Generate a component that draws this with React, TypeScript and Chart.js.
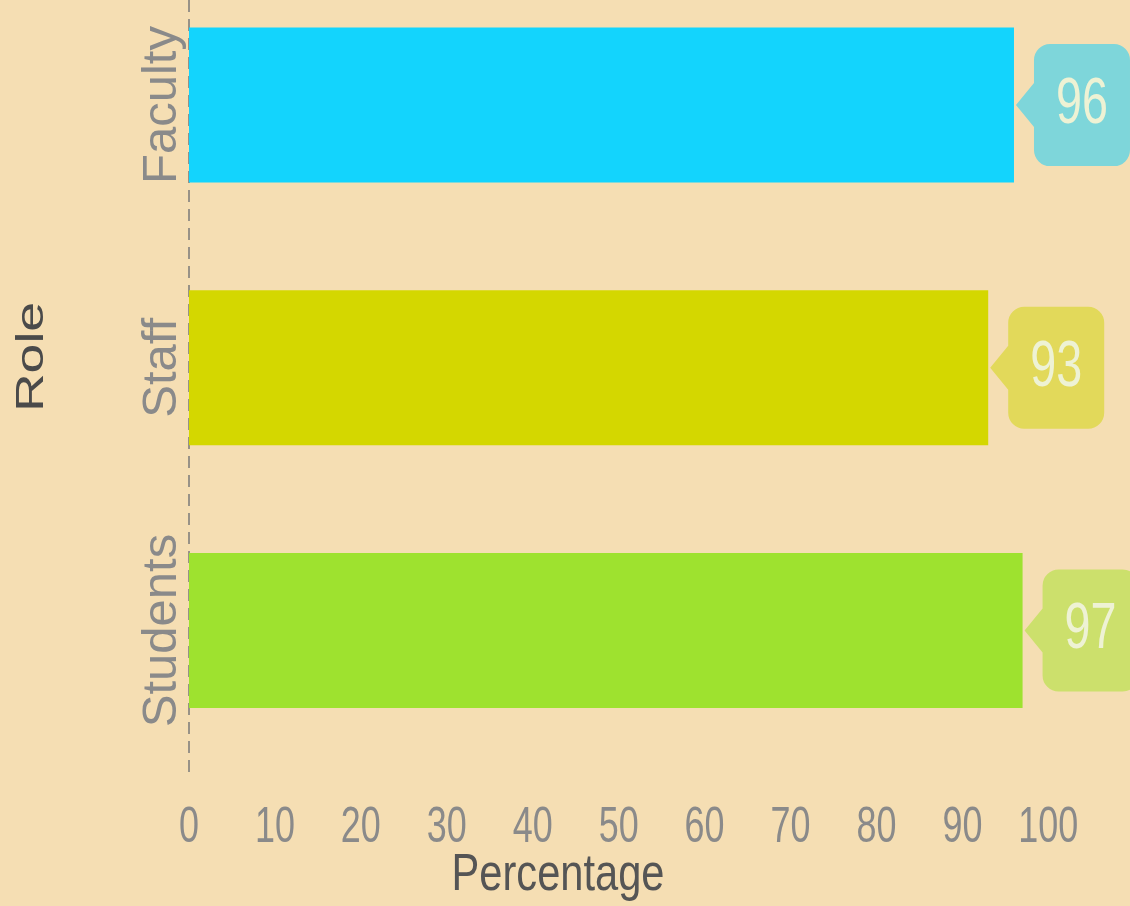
import React, { useEffect, useRef } from 'react';
import { Chart, registerables } from 'chart.js';

Chart.register(...registerables);

const categories = ['Faculty', 'Staff', 'Students'];
const values = [96, 93, 97];
const xTickValues = [0, 10, 20, 30, 40, 50, 60, 70, 80, 90, 100];
const barColors = ['#13D4FD', '#D4D700', '#9EE22F'];
const calloutColors = ['#7ED6DA', '#E2D95A', '#CCE06C'];
const xTitle = 'Percentage';
const yTitle = 'Role';

const SANS = '"Liberation Sans", Arial, sans-serif';

const overlayPlugin = {
  id: 'overlay',
  beforeDatasetsDraw(chart: any) {
    const { ctx, chartArea } = chart;
    ctx.save();
    ctx.strokeStyle = '#7a7a7a';
    ctx.lineWidth = 1.5;
    ctx.setLineDash([12, 7]);
    ctx.beginPath();
    ctx.moveTo(chartArea.left, chartArea.top);
    ctx.lineTo(chartArea.left, chartArea.bottom);
    ctx.stroke();
    ctx.restore();
  },
  afterDatasetsDraw(chart: any) {
    const ctx = chart.ctx;
    const meta = chart.getDatasetMeta(0);
    meta.data.forEach((bar: any, i: number) => {
      const { x, y } = bar.getProps(['x', 'y'], true);
      const left = x + 20;
      const w = 96;
      const h = 122;
      const top = y - h / 2;
      const r = 16;
      const tip = x + 2;
      const half = 22;
      ctx.save();
      ctx.beginPath();
      ctx.moveTo(left + r, top);
      ctx.lineTo(left + w - r, top);
      ctx.arcTo(left + w, top, left + w, top + r, r);
      ctx.lineTo(left + w, top + h - r);
      ctx.arcTo(left + w, top + h, left + w - r, top + h, r);
      ctx.lineTo(left + r, top + h);
      ctx.arcTo(left, top + h, left, top + h - r, r);
      ctx.lineTo(left, y + half);
      ctx.lineTo(tip, y);
      ctx.lineTo(left, y - half);
      ctx.lineTo(left, top + r);
      ctx.arcTo(left, top, left + r, top, r);
      ctx.closePath();
      ctx.fillStyle = calloutColors[i];
      ctx.fill();
      ctx.fillStyle = '#EEF2D4';
      ctx.font = `65px ${SANS}`;
      ctx.textAlign = 'center';
      ctx.textBaseline = 'middle';
      ctx.fillText(String(values[i]), left + w / 2, y, 52);
      ctx.restore();
    });
  },
  afterDraw(chart: any) {
    const ctx = chart.ctx;
    ctx.save();
    ctx.fillStyle = '#4a4a4a';
    ctx.font = `38px ${SANS}`;
    ctx.textAlign = 'center';
    ctx.textBaseline = 'middle';
    ctx.translate(33, 357);
    ctx.rotate(-Math.PI / 2);
    ctx.scale(1.41, 1);
    ctx.fillText(yTitle, 0, 0);
    ctx.restore();

    ctx.save();
    ctx.fillStyle = '#555555';
    ctx.font = `52px ${SANS}`;
    ctx.textAlign = 'center';
    ctx.textBaseline = 'middle';
    ctx.fillText(xTitle, 558, 876, 213);
    ctx.restore();
  },
};

export default function App() {
  const ref = useRef<HTMLCanvasElement | null>(null);

  useEffect(() => {
    if (!ref.current) return;
    const chart = new Chart(ref.current, {
      type: 'bar',
      data: {
        datasets: [
          {
            data: values.map((v, i) => ({ x: v, y: i })),
            backgroundColor: barColors,
            categoryPercentage: 1,
            barPercentage: 0.59,
          },
        ],
      },
      options: {
        indexAxis: 'y',
        responsive: false,
        animation: false,
        layout: { padding: 0 },
        plugins: {
          legend: { display: false },
          tooltip: { enabled: false },
        },
        scales: {
          x: {
            type: 'linear',
            min: 0,
            max: 109.5,
            offset: false,
            grid: { display: false },
            border: { display: false },
            afterBuildTicks: (s: any) => {
              s.ticks = xTickValues.map((v) => ({ value: v }));
            },
            afterFit: (s: any) => {
              s.height = 131;
            },
            afterUpdate: (s: any) => {
              if (s.__condensed) return;
              s.__condensed = true;
              const orig = s.getLabelItems.bind(s);
              s.getLabelItems = (ca: any) =>
                orig(ca).map((it: any) => ({
                  ...it,
                  options: { ...it.options, maxWidth: String(it.label).length * 20 },
                }));
            },
            ticks: {
              autoSkip: false,
              maxRotation: 0,
              padding: 15,
              color: '#8a8a8a',
              font: { family: SANS, size: 50 },
            },
          },
          y: {
            type: 'linear',
            reverse: true,
            min: -0.4,
            max: 2.55,
            offset: false,
            grid: { display: false, offset: false },
            border: { display: false },
            afterBuildTicks: (s: any) => {
              s.ticks = categories.map((_, i) => ({ value: i }));
            },
            afterFit: (s: any) => {
              s.width = 189;
            },
            ticks: {
              autoSkip: false,
              minRotation: 90,
              maxRotation: 90,
              crossAlign: 'center',
              padding: -78,
              color: '#8a8a8a',
              font: { family: SANS, size: 49 },
              callback: (v: any) => categories[v],
            },
          },
        },
      },
      plugins: [overlayPlugin],
    } as any);
    return () => chart.destroy();
  }, []);

  return (
    <div style={{ position: 'fixed', left: 0, top: 0, width: 1130, height: 906, background: '#F5DEB3' }}>
      <canvas ref={ref} width={1130} height={906} style={{ display: 'block' }} />
    </div>
  );
}
